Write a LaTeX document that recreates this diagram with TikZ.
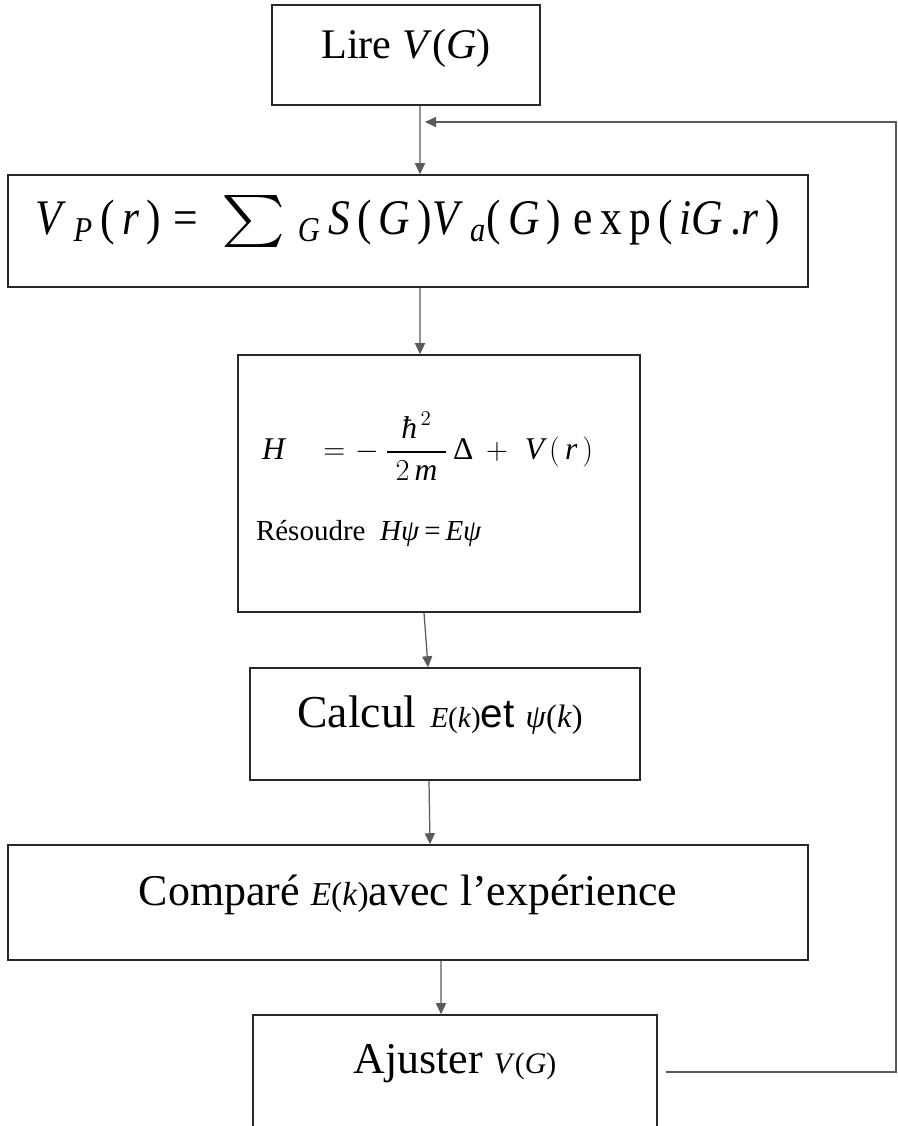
\documentclass[tikz,border=0pt]{standalone}
\usepackage{amsmath}
\usepackage{fontspec}
\setmainfont{Liberation Serif}
\newfontfamily\arialfont{Liberation Sans}
\newcommand\mi[1]{\textit{#1}}
\definecolor{BoxLine}{RGB}{40,40,40}
\definecolor{ArrowGrey}{RGB}{90,90,90}
\usetikzlibrary{arrows.meta,positioning}

\begin{document}
\begin{tikzpicture}[
        x=0.02cm, y=-0.02cm,
        box/.style={draw=BoxLine, line width=0.9pt, inner sep=0pt, align=center,
                    font=\fontsize{25}{29}\selectfont},
        up/.style={text height=0.62cm, text depth=#1},
        arr/.style={-{Triangle[length=2.2mm,width=2mm]}, draw=ArrowGrey, line width=0.7pt}
      ]
        \useasboundingbox (0,0) rectangle (898,1126);
        % main column
        \node[box, up=0.5cm, minimum width=5.36cm, minimum height=2cm,
              font=\fontsize{24}{28}\selectfont] (lire) at (406,55)
              {Lire \mi{V}(\mi{G})};
        \node[box, text height=0.78cm, text depth=0.66cm,
              minimum width=16cm, minimum height=2.24cm] (vpot) at (408,231)
              {\resizebox{14.9cm}{0.78cm}{\mi{V}\,$_{\mi{P}}$\,(\,\mi{r}\,)\;=\;\;\scalebox{1.4}[1.05]{$\sum$}\;$_{\mi{G}}$\,\mi{S}\,(\,\mi{G}\,)\mi{V}\,$_{\mi{a}}$(\,\mi{G}\,)\;e\,x\,p\,(\,\mi{iG}\,.\mi{r}\,)}};
        \node[box, align=left, text width=7.32cm, inner xsep=0.36cm,
              minimum height=5.14cm] (ham) at (439,483.5)
              {\hspace{0.12cm}\fontsize{18}{22}\selectfont
               $\displaystyle \mi{H}\hspace{0.6cm}=\hspace{0.04cm}-\hspace{0.12cm}\frac{\;\mi{ħ}^{\,2}\;}{\;2\,\mi{m}\;}\,\text{Δ}\hspace{0.12cm}+\hspace{0.2cm}\mi{V}\,(\,\mi{r}\,)$\\[0.6cm]
               \fontsize{16.5}{19}\selectfont R\'esoudre \mi{Hψ}\,=\,\mi{Eψ}\rule[-0.3cm]{0pt}{0.3cm}};
        \node[box, up=0.5cm, minimum width=7.8cm, minimum height=2.24cm] (calc) at (445,724)
              {\hspace{-0.2cm}{\fontsize{26}{30}\selectfont Calcul}\hspace{0.28cm}{\fontsize{16.5}{19}\selectfont\mi{E}(\mi{k})}{\arialfont\fontsize{23}{27}\selectfont et}\hspace{0.22cm}{\fontsize{18.5}{21}\selectfont\mi{ψ}(\mi{k})}};
        \node[box, up=0.5cm, minimum width=16cm, minimum height=2.3cm] (comp) at (408,902.5)
              {Compar\'e {\fontsize{19}{21}\selectfont\mi{E}(\mi{k})}avec l’exp\'erience};
        \node[box, up=0.55cm, minimum width=8.08cm, minimum height=2.28cm] (ajust) at (455,1072)
              {Ajuster {\fontsize{17}{19}\selectfont\mi{V}(\mi{G})}};
        % spine, slightly off the centres as in the sketch
        \foreach \a/\sa/\b/\sb in {lire/0.28/vpot/0.24, vpot/0.24/ham/-0.38,
                                   ham/-0.30/calc/-0.34, calc/-0.32/comp/0.44,
                                   comp/0.66/ajust/-0.28}
          \draw[arr] ([xshift=\sa cm]\a.south) -- ([xshift=\sb cm]\b.north);
        % loop back to the top
        \coordinate (back) at (425,122);
        \draw[arr] ([xshift=0.16cm]ajust.east) -| (896,122) -- (back);
\end{tikzpicture}
\end{document}
